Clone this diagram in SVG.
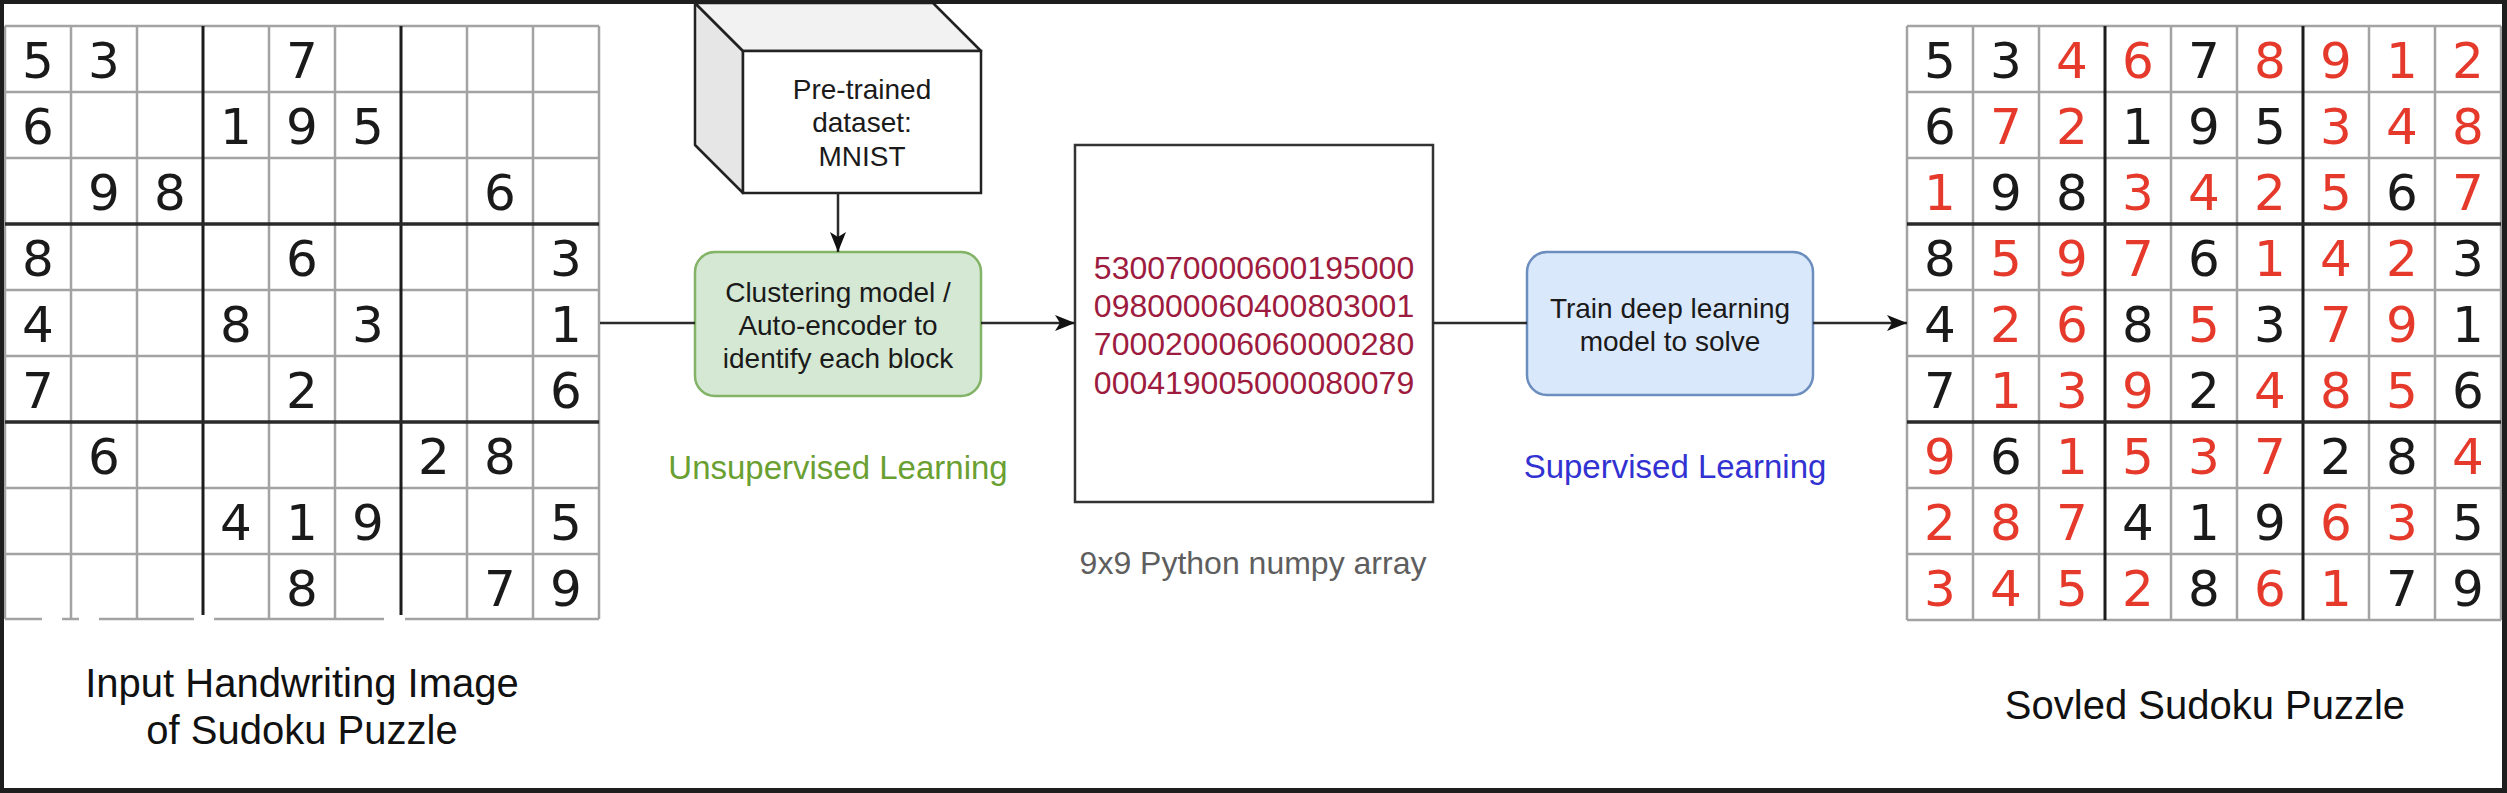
<svg xmlns="http://www.w3.org/2000/svg" width="2507" height="793" viewBox="0 0 2507 793">
<style>
.thin{stroke:#a3a3a3;stroke-width:2.5;fill:none}
.thick{stroke:#1c1c1c;stroke-width:3;fill:none}
.thickh{stroke:#2a2a2a;stroke-width:3.5;fill:none}
.d{font-family:"DejaVu Sans",Verdana,sans-serif;font-size:50px;text-anchor:middle;fill:#1a1a1a}
.r{fill:#e53a2b}
.lbl{font-family:"Liberation Sans",Arial,Helvetica,sans-serif;text-anchor:middle}
.box{font-family:"Liberation Sans",Arial,Helvetica,sans-serif;font-size:28px;text-anchor:middle;fill:#1a1a1a}
.conn{stroke:#2b2b2b;stroke-width:2.5;fill:none}
</style>
<defs>
<marker id="arr" markerUnits="userSpaceOnUse" markerWidth="20" markerHeight="16" refX="20" refY="8" orient="auto">
<path d="M0,0 L20,8 L0,16 L5,8 z" fill="#111"/>
</marker>
</defs>
<rect x="0" y="0" width="2507" height="793" fill="#ffffff"/>

<g id="input-grid">
<path class="thin" d="M5,26V619M71,26V619M137,26V619M269,26V619M335,26V619M467,26V619M533,26V619M599,26V619M5,26H599M5,92H599M5,158H599M5,290H599M5,356H599M5,488H599M5,554H599M5,619H42M62,619H79M99,619H194M214,619H384M405,619H599"/>
<path class="thick" d="M203,26V615M401,26V615"/>
<path class="thickh" d="M5,224H599M5,422H599"/>
<g class="d">
<text x="38" y="78">5</text><text x="104" y="78">3</text><text x="302" y="78">7</text>
<text x="38" y="144">6</text><text x="236" y="144">1</text><text x="302" y="144">9</text><text x="368" y="144">5</text>
<text x="104" y="210">9</text><text x="170" y="210">8</text><text x="500" y="210">6</text>
<text x="38" y="276">8</text><text x="302" y="276">6</text><text x="566" y="276">3</text>
<text x="38" y="342">4</text><text x="236" y="342">8</text><text x="368" y="342">3</text><text x="566" y="342">1</text>
<text x="38" y="408">7</text><text x="302" y="408">2</text><text x="566" y="408">6</text>
<text x="104" y="474">6</text><text x="434" y="474">2</text><text x="500" y="474">8</text>
<text x="236" y="540">4</text><text x="302" y="540">1</text><text x="368" y="540">9</text><text x="566" y="540">5</text>
<text x="302" y="606">8</text><text x="500" y="606">7</text><text x="566" y="606">9</text>
</g>
<text class="lbl" x="302" y="697" font-size="40" fill="#111">Input Handwriting Image</text>
<text class="lbl" x="302" y="744" font-size="40" fill="#111">of Sudoku Puzzle</text>
</g>

<g id="mnist-cube">
<path d="M695,3 L743,51 L743,193 L695,145 Z" fill="#e6e6e6" stroke="#222" stroke-width="2.5" stroke-linejoin="round"/>
<path d="M695,3 L933,3 L981,51 L743,51 Z" fill="#f2f2f2" stroke="#222" stroke-width="2.5" stroke-linejoin="round"/>
<rect x="743" y="51" width="238" height="142" fill="#ffffff" stroke="#222" stroke-width="2.5"/>
<text class="box" x="862" y="99">Pre-trained</text>
<text class="box" x="862" y="132">dataset:</text>
<text class="box" x="862" y="166">MNIST</text>
</g>

<g id="clustering">
<rect x="695" y="252" width="286" height="144" rx="20" ry="20" fill="#d5e8d4" stroke="#82b366" stroke-width="2.5"/>
<text class="box" x="838" y="302">Clustering model /</text>
<text class="box" x="838" y="335">Auto-encoder to</text>
<text class="box" x="838" y="368">identify each block</text>
<text class="lbl" x="838" y="479" font-size="33" fill="#6a9f32">Unsupervised Learning</text>
</g>

<g id="array">
<rect x="1075" y="145" width="358" height="357" fill="#ffffff" stroke="#333" stroke-width="2.5"/>
<g class="lbl" font-size="32" fill="#9e1b40">
<text x="1254" y="279">530070000600195000</text>
<text x="1254" y="317">098000060400803001</text>
<text x="1254" y="355">700020006060000280</text>
<text x="1254" y="394">000419005000080079</text>
</g>
<text class="lbl" x="1253" y="574" font-size="32" fill="#5e5e5e">9x9 Python numpy array</text>
</g>

<g id="train">
<rect x="1527" y="252" width="286" height="143" rx="20" ry="20" fill="#dae8fc" stroke="#6c8ebf" stroke-width="2.5"/>
<text class="box" x="1670" y="318">Train deep learning</text>
<text class="box" x="1670" y="351">model to solve</text>
<text class="lbl" x="1675" y="478" font-size="33" fill="#3232d2">Supervised Learning</text>
</g>

<g id="solved-grid">
<path class="thin" d="M1907,26V620M1973,26V620M2039,26V620M2171,26V620M2237,26V620M2369,26V620M2435,26V620M2501,26V620M1907,26H2501M1907,92H2501M1907,158H2501M1907,290H2501M1907,356H2501M1907,488H2501M1907,554H2501M1907,620H2501"/>
<path class="thick" d="M2105,26V620M2303,26V620"/>
<path class="thickh" d="M1907,224H2501M1907,422H2501"/>
<g class="d">
<text x="1940" y="78">5</text><text x="2006" y="78">3</text><text class="r" x="2072" y="78">4</text><text class="r" x="2138" y="78">6</text><text x="2204" y="78">7</text><text class="r" x="2270" y="78">8</text><text class="r" x="2336" y="78">9</text><text class="r" x="2402" y="78">1</text><text class="r" x="2468" y="78">2</text>
<text x="1940" y="144">6</text><text class="r" x="2006" y="144">7</text><text class="r" x="2072" y="144">2</text><text x="2138" y="144">1</text><text x="2204" y="144">9</text><text x="2270" y="144">5</text><text class="r" x="2336" y="144">3</text><text class="r" x="2402" y="144">4</text><text class="r" x="2468" y="144">8</text>
<text class="r" x="1940" y="210">1</text><text x="2006" y="210">9</text><text x="2072" y="210">8</text><text class="r" x="2138" y="210">3</text><text class="r" x="2204" y="210">4</text><text class="r" x="2270" y="210">2</text><text class="r" x="2336" y="210">5</text><text x="2402" y="210">6</text><text class="r" x="2468" y="210">7</text>
<text x="1940" y="276">8</text><text class="r" x="2006" y="276">5</text><text class="r" x="2072" y="276">9</text><text class="r" x="2138" y="276">7</text><text x="2204" y="276">6</text><text class="r" x="2270" y="276">1</text><text class="r" x="2336" y="276">4</text><text class="r" x="2402" y="276">2</text><text x="2468" y="276">3</text>
<text x="1940" y="342">4</text><text class="r" x="2006" y="342">2</text><text class="r" x="2072" y="342">6</text><text x="2138" y="342">8</text><text class="r" x="2204" y="342">5</text><text x="2270" y="342">3</text><text class="r" x="2336" y="342">7</text><text class="r" x="2402" y="342">9</text><text x="2468" y="342">1</text>
<text x="1940" y="408">7</text><text class="r" x="2006" y="408">1</text><text class="r" x="2072" y="408">3</text><text class="r" x="2138" y="408">9</text><text x="2204" y="408">2</text><text class="r" x="2270" y="408">4</text><text class="r" x="2336" y="408">8</text><text class="r" x="2402" y="408">5</text><text x="2468" y="408">6</text>
<text class="r" x="1940" y="474">9</text><text x="2006" y="474">6</text><text class="r" x="2072" y="474">1</text><text class="r" x="2138" y="474">5</text><text class="r" x="2204" y="474">3</text><text class="r" x="2270" y="474">7</text><text x="2336" y="474">2</text><text x="2402" y="474">8</text><text class="r" x="2468" y="474">4</text>
<text class="r" x="1940" y="540">2</text><text class="r" x="2006" y="540">8</text><text class="r" x="2072" y="540">7</text><text x="2138" y="540">4</text><text x="2204" y="540">1</text><text x="2270" y="540">9</text><text class="r" x="2336" y="540">6</text><text class="r" x="2402" y="540">3</text><text x="2468" y="540">5</text>
<text class="r" x="1940" y="606">3</text><text class="r" x="2006" y="606">4</text><text class="r" x="2072" y="606">5</text><text class="r" x="2138" y="606">2</text><text x="2204" y="606">8</text><text class="r" x="2270" y="606">6</text><text class="r" x="2336" y="606">1</text><text x="2402" y="606">7</text><text x="2468" y="606">9</text>
</g>
<text class="lbl" x="2205" y="719" font-size="40" fill="#111">Sovled Sudoku Puzzle</text>
</g>

<g id="connectors">
<path class="conn" d="M600,323 H695"/>
<path class="conn" d="M838,193 V252" marker-end="url(#arr)"/>
<path class="conn" d="M981,323 H1075" marker-end="url(#arr)"/>
<path class="conn" d="M1433,323 H1527"/>
<path class="conn" d="M1813,323 H1907" marker-end="url(#arr)"/>
</g>

<g id="frame" fill="#1e1e1e">
<rect x="0" y="0" width="2507" height="4"/>
<rect x="0" y="0" width="4" height="793"/>
<rect x="0" y="788" width="2507" height="5"/>
<rect x="2502" y="0" width="5" height="793"/>
</g>
</svg>
